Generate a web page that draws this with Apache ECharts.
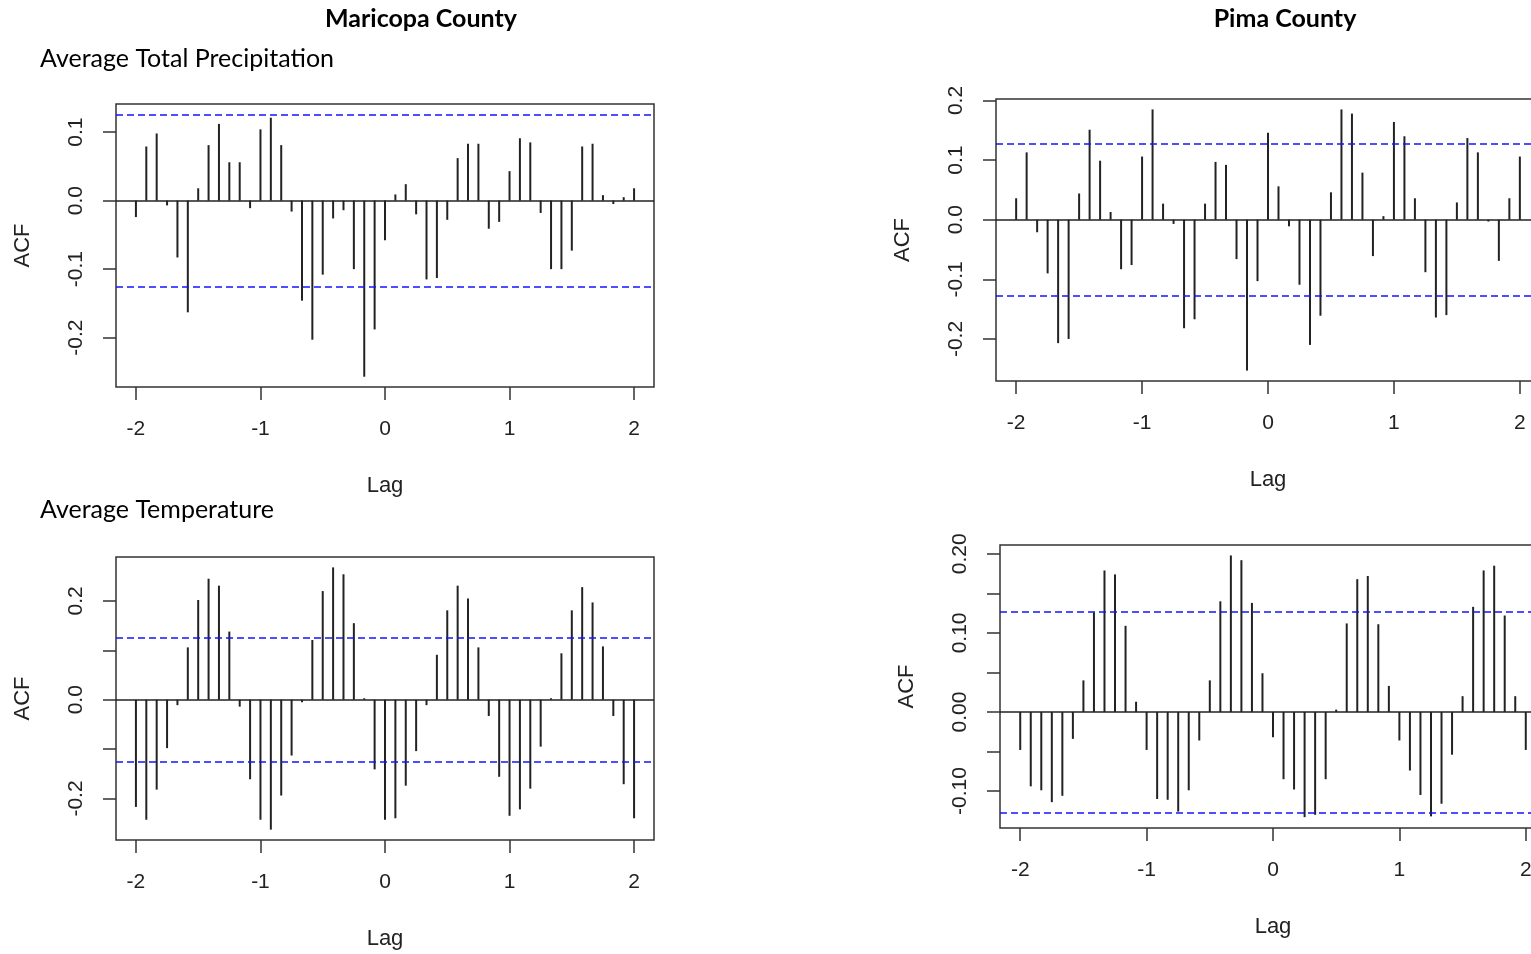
<!DOCTYPE html>
<html>
<head>
<meta charset="utf-8">
<title>CCF - Maricopa / Pima</title>
<script src="https://cdn.jsdelivr.net/npm/echarts@6/dist/echarts.min.js"></script>
<style>
  html, body { margin: 0; padding: 0; background: #fff; }
  #main { width: 1531px; height: 954px; }
</style>
</head>
<body>
<div id="main"></div>
<script>
// lag in months (-24 .. 24), shown on the axis in years
var lagMonths = [-24,-23,-22,-21,-20,-19,-18,-17,-16,-15,-14,-13,-12,-11,-10,-9,-8,-7,-6,-5,-4,-3,-2,-1,0,
                 1,2,3,4,5,6,7,8,9,10,11,12,13,14,15,16,17,18,19,20,21,22,23,24];

var maricopaPrecip = [-0.024, 0.079, 0.098, -0.007, -0.083, -0.163, 0.018, 0.081, 0.112, 0.056, 0.056, -0.011,
                      0.104, 0.121, 0.081, -0.016, -0.146, -0.203, -0.108, -0.026, -0.014, -0.100, -0.257, -0.188, -0.058,
                      0.009, 0.024, -0.020, -0.115, -0.113, -0.028, 0.062, 0.083, 0.083, -0.041, -0.031, 0.043,
                      0.091, 0.085, -0.018, -0.100, -0.100, -0.073, 0.079, 0.083, 0.008, -0.005, 0.005, 0.018];
var pimaPrecip = [0.036, 0.113, -0.021, -0.090, -0.207, -0.200, 0.044, 0.151, 0.099, 0.013, -0.083, -0.076,
                  0.106, 0.185, 0.027, -0.007, -0.182, -0.167, 0.027, 0.097, 0.092, -0.066, -0.253, -0.103, 0.146,
                  0.056, -0.011, -0.109, -0.210, -0.161, 0.046, 0.185, 0.178, 0.079, -0.061, 0.006, 0.164,
                  0.140, 0.036, -0.088, -0.164, -0.160, 0.029, 0.137, 0.113, -0.003, -0.069, 0.036, 0.106];
var maricopaTemp = [-0.217, -0.243, -0.182, -0.098, -0.011, 0.106, 0.202, 0.245, 0.231, 0.138, -0.014, -0.161,
                    -0.243, -0.263, -0.194, -0.113, -0.005, 0.121, 0.220, 0.268, 0.254, 0.155, 0.003, -0.141, -0.243,
                    -0.240, -0.174, -0.104, -0.011, 0.091, 0.181, 0.231, 0.205, 0.106, -0.033, -0.156, -0.235,
                    -0.222, -0.180, -0.095, 0.003, 0.094, 0.181, 0.228, 0.197, 0.108, -0.033, -0.171, -0.240];
var pimaTemp = [-0.048, -0.094, -0.099, -0.114, -0.106, -0.034, 0.040, 0.126, 0.179, 0.174, 0.109, 0.013,
                -0.048, -0.110, -0.111, -0.126, -0.099, -0.036, 0.040, 0.140, 0.198, 0.192, 0.138, 0.049, -0.032,
                -0.085, -0.098, -0.133, -0.130, -0.085, 0.003, 0.112, 0.168, 0.172, 0.111, 0.033, -0.036,
                -0.074, -0.105, -0.132, -0.116, -0.054, 0.020, 0.133, 0.179, 0.185, 0.122, 0.020, -0.048];

// significance bounds (blue dashed)
var ciBounds = [0.126, 0.127, 0.126, 0.127];

// tick values
var xTicks = [-2, -1, 0, 1, 2];
var yTicksP1 = [-0.2, -0.1, 0, 0.1];
var yTicksP2 = [-0.2, -0.1, 0, 0.1, 0.2];
var yTicksP3 = [-0.2, -0.1, 0, 0.1, 0.2];
var yLabelsP3 = [-0.2, 0, 0.2];
var yTicksP4 = [-0.10, -0.05, 0, 0.05, 0.10, 0.15, 0.20];
var yLabelsP4 = [-0.10, 0, 0.10, 0.20];

var myChart = null;
var txtFont = 'Liberation Sans';
var ink = '#222';

function pairs(vals){
	var out = [];
	for (var i = 0; i < lagMonths.length; i++) {
		out.push([lagMonths[i] / 12, vals[i]]);
	}
	return out;
}

function boxGrid(left, top, width, height){
	return {left: left, top: top, width: width, height: height,
		containLabel: false, outerBoundsMode: 'none',
		show: true, borderColor: '#333', borderWidth: 1.5, backgroundColor: 'transparent'};
}

function xAxisFor(idx){
	return {
		gridIndex: idx, type: 'value', min: -2.16, max: 2.16,
		name: 'Lag', nameLocation: 'middle', nameGap: 88,
		nameTextStyle: {fontFamily: txtFont, fontSize: 22, color: ink},
		axisLine: {show: false, onZero: false},
		splitLine: {show: false},
		axisTick: {show: true, customValues: xTicks, length: 13, lineStyle: {color: '#333', width: 1.5}},
		axisLabel: {customValues: xTicks, margin: 32, fontFamily: txtFont, fontSize: 21, color: ink,
			formatter: function(v){ return String(v); }}
	};
}

function yAxisFor(idx, min, max, ticks, labels, dec){
	return {
		gridIndex: idx, type: 'value', min: min, max: max,
		name: 'ACF', nameLocation: 'middle', nameGap: 82,
		nameTextStyle: {fontFamily: txtFont, fontSize: 22, color: ink},
		axisLine: {show: false, onZero: false},
		splitLine: {show: false},
		axisTick: {show: true, customValues: ticks, length: 13, lineStyle: {color: '#333', width: 1.5}},
		axisLabel: {customValues: labels, rotate: 90, margin: 29, fontFamily: txtFont, fontSize: 21, color: ink,
			formatter: function(v){ return v.toFixed(dec); }}
	};
}

function acfSeries(idx, vals){
	var ci = ciBounds[idx];
	var dash = {color: '#1414ff', width: 1.5, type: [7, 4]};
	return {
		type: 'bar', xAxisIndex: idx, yAxisIndex: idx,
		data: pairs(vals),
		barWidth: 2,
		itemStyle: {color: ink},
		markLine: {
			silent: true, precision: 4, symbol: ['none', 'none'], label: {show: false},
			data: [
				{yAxis: 0, lineStyle: {color: ink, width: 1.5, type: 'solid'}},
				{yAxis: ci, lineStyle: dash},
				{yAxis: -ci, lineStyle: dash}
			]
		}
	};
}

var option = {
	animation: false,
	backgroundColor: '#fff',
	grid: [
		boxGrid(116, 104, 538, 283),
		boxGrid(996, 99, 544, 282),
		boxGrid(116, 557, 538, 283),
		boxGrid(1000, 545, 546, 283)
	],
	xAxis: [xAxisFor(0), xAxisFor(1), xAxisFor(2), xAxisFor(3)],
	yAxis: [
		yAxisFor(0, -0.272, 0.141, yTicksP1, yTicksP1, 1),
		yAxisFor(1, -0.2705, 0.2025, yTicksP2, yTicksP2, 1),
		yAxisFor(2, -0.284, 0.289, yTicksP3, yLabelsP3, 1),
		yAxisFor(3, -0.1467, 0.2112, yTicksP4, yLabelsP4, 2)
	],
	series: [
		acfSeries(0, maricopaPrecip),
		acfSeries(1, pimaPrecip),
		acfSeries(2, maricopaTemp),
		acfSeries(3, pimaTemp)
	],
	graphic: [
		{type: 'text', x: 421, y: 19, style: {text: 'Maricopa County', font: 'bold 25px Lato', fill: '#000', align: 'center', verticalAlign: 'middle'}},
		{type: 'text', x: 1285, y: 19, style: {text: 'Pima County', font: 'bold 25px Lato', fill: '#000', align: 'center', verticalAlign: 'middle'}},
		{type: 'text', x: 40, y: 59, style: {text: 'Average Total Precipitation', font: '25px Lato', fill: '#000', align: 'left', verticalAlign: 'middle'}},
		{type: 'text', x: 40, y: 510, style: {text: 'Average Temperature', font: '25px Lato', fill: '#000', align: 'left', verticalAlign: 'middle'}}
	]
};

myChart = echarts.init(document.getElementById('main'));
myChart.setOption(option);
</script>
</body>
</html>
